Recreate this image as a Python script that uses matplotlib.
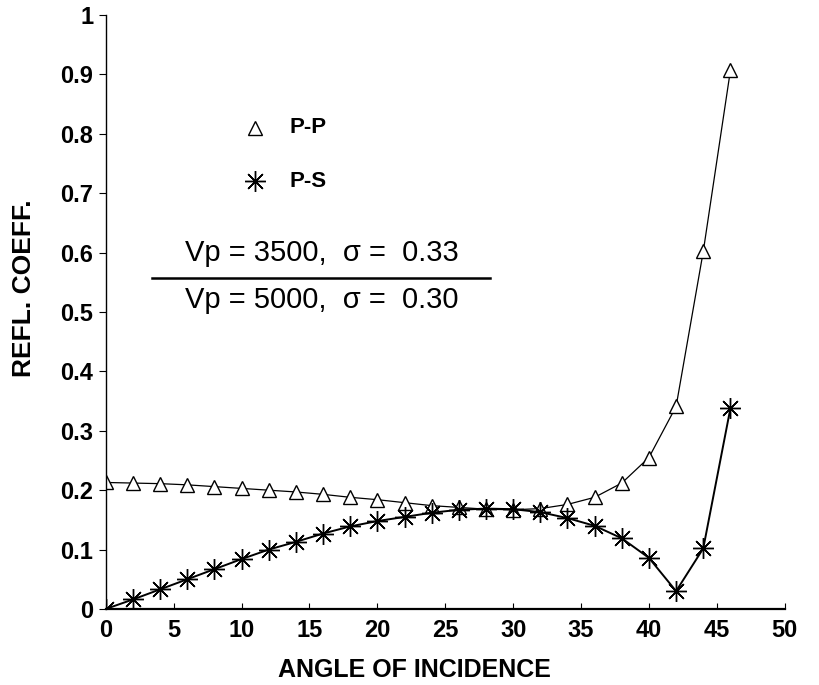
import matplotlib
matplotlib.use("Agg")
import matplotlib.pyplot as plt

# angles d'incidence et coefficients de réflexion
angles = [0, 2, 4, 6, 8, 10, 12, 14, 16, 18, 20, 22, 24, 26, 28, 30, 32, 34, 36, 38, 40, 42, 44, 46]
pp = [0.213, 0.212, 0.211, 0.209, 0.206, 0.203, 0.200, 0.197, 0.193, 0.188, 0.184, 0.179,
      0.174, 0.171, 0.168, 0.167, 0.169, 0.176, 0.188, 0.212, 0.255, 0.341, 0.602, 0.907]
ps = [0.0, 0.016, 0.033, 0.050, 0.067, 0.084, 0.100, 0.113, 0.127, 0.139, 0.148, 0.155,
      0.162, 0.167, 0.169, 0.168, 0.163, 0.153, 0.140, 0.119, 0.086, 0.030, 0.102, 0.338]

xticks = [0, 5, 10, 15, 20, 25, 30, 35, 40, 45, 50]
yticks = [0, 0.1, 0.2, 0.3, 0.4, 0.5, 0.6, 0.7, 0.8, 0.9, 1]
ytick_labels = ['0', '0.1', '0.2', '0.3', '0.4', '0.5', '0.6', '0.7', '0.8', '0.9', '1']

plt.rcParams['font.family'] = ['Liberation Sans', 'DejaVu Sans']

fig = plt.figure(figsize=(8.2, 6.85), dpi=100)
ax = fig.add_axes([0.129, 0.111, 0.828, 0.867])

asterisk = (8, 2, 0)
ax.plot(angles, pp, color='black', lw=0.9, marker='^', ms=10, mfc='white', mec='black', mew=1.0)
ax.plot(angles, ps, color='black', lw=1.4, marker=asterisk, ms=15, mec='black', mew=1.0)

ax.set_xlim(0, 50)
ax.set_ylim(0, 1)
ax.set_xticks(xticks)
ax.set_yticks(yticks)
ax.set_yticklabels(ytick_labels)
ax.spines['top'].set_visible(False)
ax.spines['right'].set_visible(False)
ax.spines['bottom'].set_linewidth(1.6)
ax.spines['left'].set_linewidth(1.0)
ax.tick_params(axis='x', direction='in', length=4, labelsize=17, pad=7)
ax.tick_params(axis='y', direction='out', length=5, labelsize=17, pad=4)
for lab in ax.get_xticklabels() + ax.get_yticklabels():
    lab.set_fontweight('bold')

ax.set_xlabel('ANGLE OF INCIDENCE', fontsize=18, fontweight='bold')
ax.xaxis.set_label_coords(0.455, -0.082)
ax.set_ylabel('REFL. COEFF.', fontsize=19, fontweight='bold')
ax.yaxis.set_label_coords(-0.103, 0.54)

# légende manuelle
ax.plot([11.0], [0.81], marker='^', ms=10, mfc='white', mec='black', mew=1.0, color='black')
ax.text(13.5, 0.81, 'P-P', fontsize=16, fontweight='bold', va='center')
ax.plot([11.0], [0.72], marker=asterisk, ms=15, mec='black', mew=1.0, color='black')
ax.text(13.5, 0.72, 'P-S', fontsize=16, fontweight='bold', va='center')

# paramètres des deux milieux
ax.text(15.9, 0.60, 'Vp = 3500,  σ =  0.33', fontsize=21, ha='center', va='center')
ax.plot([3.4, 28.3], [0.557, 0.557], color='black', lw=1.8)
ax.text(15.9, 0.52, 'Vp = 5000,  σ =  0.30', fontsize=21, ha='center', va='center')

fig.savefig('out.png', dpi=100)
